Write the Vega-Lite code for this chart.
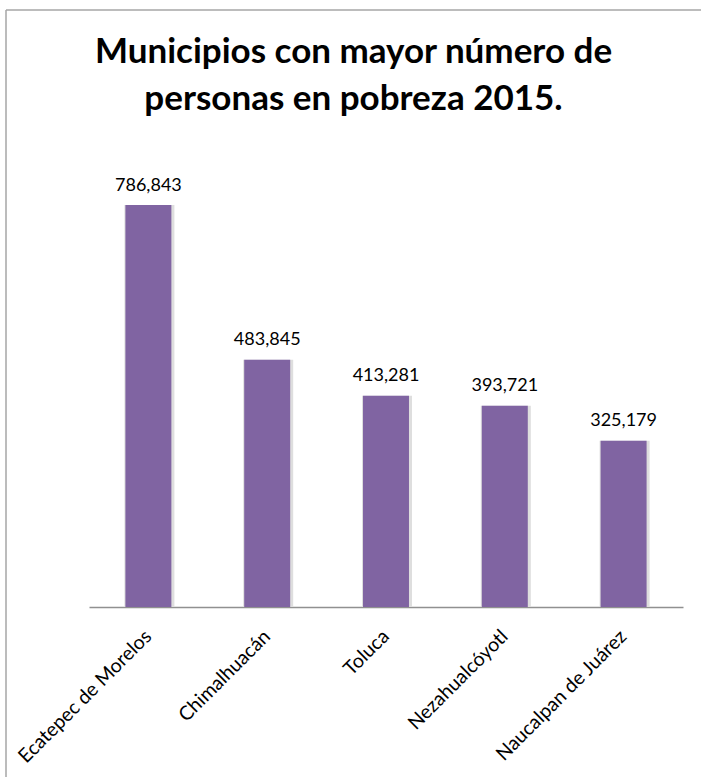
{
  "$schema": "https://vega.github.io/schema/vega-lite/v6.json",
  "autosize": "none",
  "width": 695,
  "height": 767,
  "padding": {"left": 6, "top": 10, "right": 0, "bottom": 0},
  "background": "white",
  "config": {"view": {"stroke": "#a6a6a6", "strokeWidth": 1.5, "strokeDash": [695, 1462, 767, 0]}, "font": "Lato"},
  "title": {
    "text": ["Municipios con mayor número de", "personas en pobreza 2015."],
    "font": "Lato",
    "fontWeight": "bold",
    "fontSize": 35,
    "lineHeight": 47,
    "color": "black",
    "anchor": "middle",
    "frame": "group",
    "baseline": "top",
    "offset": -106.5
  },
  "data": {
    "values": [
      {"municipio": "Ecatepec de Morelos", "personas": 786843},
      {"municipio": "Chimalhuacán", "personas": 483845},
      {"municipio": "Toluca", "personas": 413281},
      {"municipio": "Nezahualcóyotl", "personas": 393721},
      {"municipio": "Naucalpan de Juárez", "personas": 325179}
    ]
  },
  "encoding": {
    "x": {
      "field": "municipio",
      "type": "nominal",
      "sort": null,
      "scale": {"range": [83, 677], "paddingInner": 0.613, "paddingOuter": 0.3065},
      "axis": {
        "title": null,
        "domainColor": "#909090",
        "domainWidth": 1.5,
        "ticks": false,
        "labelAngle": -45,
        "labelAlign": "right",
        "labelBaseline": "middle",
        "labelFont": "Lato",
        "labelFontSize": 19.5,
        "labelColor": "black",
        "labelPadding": 26,
        "labelLimit": 400,
        "offset": -170
      }
    },
    "y": {
      "field": "personas",
      "type": "quantitative",
      "scale": {"domain": [0, 1168523], "range": [597, 0], "nice": false, "zero": true},
      "axis": null
    }
  },
  "layer": [
    {"mark": {"type": "bar", "color": "#dedede", "size": 50, "xOffset": 1}},
    {"mark": {"type": "bar", "color": "#8064a2"}},
    {
      "mark": {"type": "text", "dy": -14.5, "baseline": "alphabetic", "fontSize": 18, "font": "Lato", "color": "black"},
      "encoding": {"text": {"field": "personas", "type": "quantitative", "format": ","}}
    }
  ]
}
